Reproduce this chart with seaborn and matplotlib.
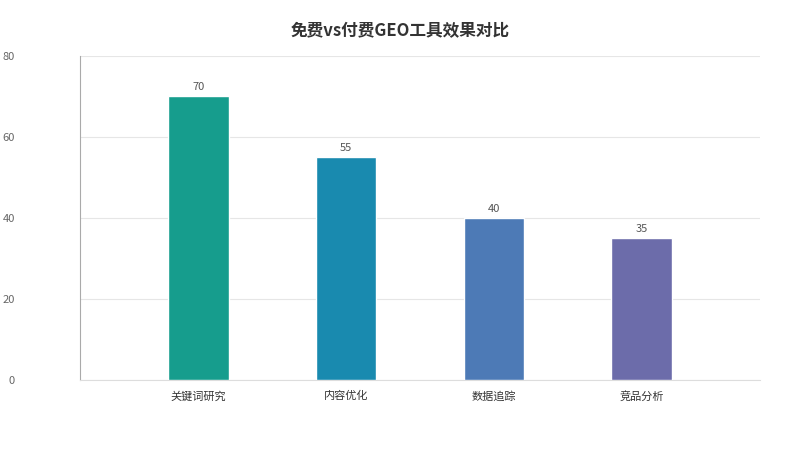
import matplotlib
matplotlib.use('Agg')
import matplotlib.pyplot as plt
import seaborn as sns
import pandas as pd

# Chart data
categories = ['关键词研究', '内容优化', '数据追踪', '竞品分析']
values = [70, 55, 40, 35]
bar_colors = ['#00B39E', '#0096C8', '#3B78C8', '#6262B4']

sns.set_theme(style='white')
plt.rcParams['font.family'] = ['Noto Sans CJK SC', 'DejaVu Sans']

df = pd.DataFrame({'category': categories, 'value': values})

fig = plt.figure(figsize=(8, 4.5), dpi=100)
ax = fig.add_axes([0.1, 0.1556, 0.85, 0.72])

sns.barplot(data=df, x='category', y='value', hue='category', palette=bar_colors,
            width=0.41, legend=False, ax=ax, zorder=3)

for i, v in enumerate(values):
    ax.text(i, v + 1, str(v), ha='center', va='bottom', fontsize=8, color='#555555')

ax.set_xlim(-0.8, 3.8)
ax.set_ylim(0, 80)
ax.set_yticks([0, 20, 40, 60, 80])
ax.yaxis.grid(True, color='#E6E6E6', linewidth=0.8, zorder=0)
ax.set_xlabel('')
ax.set_ylabel('')
ax.tick_params(axis='y', length=0, pad=47, labelsize=8, labelcolor='#666666')
ax.tick_params(axis='x', length=0, pad=8, labelsize=8, labelcolor='#333333')

for s in ['top', 'right']:
    ax.spines[s].set_visible(False)
ax.spines['left'].set_color('#AAAAAA')
ax.spines['left'].set_linewidth(0.8)
ax.spines['bottom'].set_color('#DDDDDD')
ax.spines['bottom'].set_linewidth(0.8)

fig.suptitle('免费vs付费GEO工具效果对比', y=0.95, fontsize=12, fontweight='bold', color='#333333')

fig.savefig('out.png', dpi=100)
plt.close(fig)
